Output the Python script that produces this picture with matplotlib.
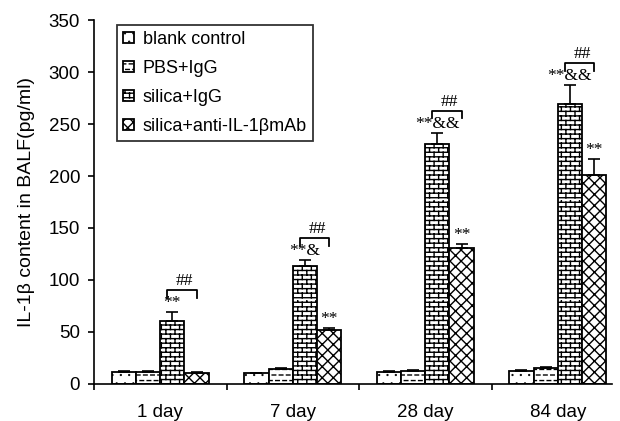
import warnings

import matplotlib

matplotlib.use("Agg")
import matplotlib.hatch as mhatch
import matplotlib.pyplot as plt
import numpy as np
from matplotlib.path import Path

warnings.filterwarnings("ignore")

# Data
days = ["1 day", "7 day", "28 day", "84 day"]
groups = ["blank control", "PBS+IgG", "silica+IgG", "silica+anti-IL-1βmAb"]

blank_mean = [11, 10, 11.5, 12.5]
blank_err = [0.8, 0.6, 0.8, 0.8]
pbs_mean = [11.5, 14, 12.5, 15]
pbs_err = [1.0, 1.0, 0.8, 0.8]
silica_mean = [60.5, 113.5, 230.5, 269]
silica_err = [8.5, 5.5, 11, 18.5]
anti_mean = [10.5, 51.5, 131, 201]
anti_err = [0.5, 2.5, 3.5, 15]

silica_sig = ["**", "**&", "**&&", "**&&"]
anti_sig = ["", "**", "**", "**"]
pair_sig = ["##", "##", "##", "##"]


# Custom hatch patterns (brick, short dashes, sparse dots)
class BrickHatch(mhatch.HatchPatternBase):
    def __init__(self, hatch, density):
        self.rows = hatch.count("b") * 22
        self.per_row = 11
        self.num_vertices = self.rows * 2 * (1 + self.per_row)

    def set_vertices_and_codes(self, vertices, codes):
        dy = 1.0 / self.rows
        dx = 1.0 / self.per_row
        i = 0
        for r in range(self.rows):
            y = (r + 0.5) * dy
            vertices[i] = (0.0, y)
            vertices[i + 1] = (1.0, y)
            codes[i] = Path.MOVETO
            codes[i + 1] = Path.LINETO
            i += 2
            shift = dx / 2 if r % 2 else 0.0
            for k in range(self.per_row):
                xv = (k + 0.25) * dx + shift
                vertices[i] = (xv, y)
                vertices[i + 1] = (xv, y + dy)
                codes[i] = Path.MOVETO
                codes[i + 1] = Path.LINETO
                i += 2


class DashHatch(mhatch.HatchPatternBase):
    def __init__(self, hatch, density):
        self.rows = hatch.count("d") * 18
        self.per_row = 14
        self.num_vertices = self.rows * self.per_row * 2

    def set_vertices_and_codes(self, vertices, codes):
        dy = 1.0 / self.rows
        dx = 1.0 / self.per_row
        i = 0
        for r in range(self.rows):
            y = (r + 0.5) * dy
            shift = dx / 2 if r % 2 else 0.0
            for k in range(self.per_row):
                x0 = k * dx + shift + 0.1 * dx
                vertices[i] = (x0, y)
                vertices[i + 1] = (x0 + 0.5 * dx, y)
                codes[i] = Path.MOVETO
                codes[i + 1] = Path.LINETO
                i += 2


class SparseDots(mhatch.Circles):
    size = 0.05
    filled = True

    def __init__(self, hatch, density):
        self.num_rows = hatch.count("p") * 12
        super().__init__(hatch, density)


mhatch._hatch_types.extend([BrickHatch, DashHatch, SparseDots])
mhatch._validate_hatch_pattern = lambda h: None

plt.rcParams["font.family"] = ["Liberation Sans", "DejaVu Sans"]
plt.rcParams["hatch.linewidth"] = 1.0

fig = plt.figure(figsize=(6.2, 4.21), dpi=100)
ax = fig.add_axes([94 / 620, 1 - 383.7 / 421, (612 - 94) / 620, 363.4 / 421])

x = np.arange(len(days))
bw = 0.183
series = [
    (blank_mean, blank_err, "p"),
    (pbs_mean, pbs_err, "d"),
    (silica_mean, silica_err, "b"),
    (anti_mean, anti_err, "xxx"),
]
offsets = (np.arange(len(series)) - 1.5) * bw

for off, (mean, err, h), lab in zip(offsets, series, groups):
    ax.bar(
        x + off,
        mean,
        bw,
        yerr=[np.zeros(len(err)), err],
        color="white",
        edgecolor="black",
        linewidth=1.3,
        hatch=[h] * len(mean),
        label=lab,
        error_kw=dict(ecolor="black", elinewidth=1.2, capsize=4, capthick=1.2),
    )

# significance marks
serif = ["Liberation Serif", "DejaVu Serif"]
for i in range(len(days)):
    xs = x[i] + offsets[2]
    xa = x[i] + offsets[3]
    top_s = silica_mean[i] + silica_err[i]
    top_a = anti_mean[i] + anti_err[i]
    ax.text(xs, top_s + 1, silica_sig[i], ha="center", va="bottom",
            fontsize=12.5, family=serif)
    if anti_sig[i]:
        ax.text(xa, top_a + 1, anti_sig[i], ha="center", va="bottom",
                fontsize=12.5, family=serif)
    yb = top_s + 21
    ax.plot([xs - 0.04, xs - 0.04, xa, xa], [yb - 7, yb, yb, yb - 7],
            color="black", lw=1.3)
    ax.text((xs + xa) / 2, yb + 1, pair_sig[i], ha="center", va="bottom",
            fontsize=12.5, family=serif)

ax.set_xlim(-0.5, -0.5 + (612 - 94) / 132.5)
ax.set_ylim(0, 350)
ax.set_yticks(range(0, 351, 50))
ax.set_xticks(x)
ax.set_xticklabels(days)
ax.set_xticks([-0.5, 0.5, 1.5, 2.5], minor=True)
ax.tick_params(axis="x", which="major", length=0, pad=14.5, labelsize=13.5)
ax.tick_params(axis="x", which="minor", length=4, width=1.2, direction="out")
ax.tick_params(axis="y", length=4, width=1.2, pad=6, labelsize=13.5)

for s in ["top", "right"]:
    ax.spines[s].set_visible(False)
for s in ["left", "bottom"]:
    ax.spines[s].set_linewidth(1.2)

ax.set_ylabel("IL-1β content in BALF(pg/ml)", fontsize=14)
ax.yaxis.set_label_coords(-0.114, 0.5)

leg = ax.legend(
    loc="upper left",
    bbox_to_anchor=(0.044, 0.988),
    borderaxespad=0,
    fontsize=13,
    fancybox=False,
    edgecolor="#333333",
    framealpha=1,
    handlelength=0.6,
    handleheight=0.6,
    handletextpad=0.5,
    labelspacing=0.66,
    borderpad=0.35,
)
leg.get_frame().set_linewidth(1.3)

fig.savefig("out.png", dpi=100)
